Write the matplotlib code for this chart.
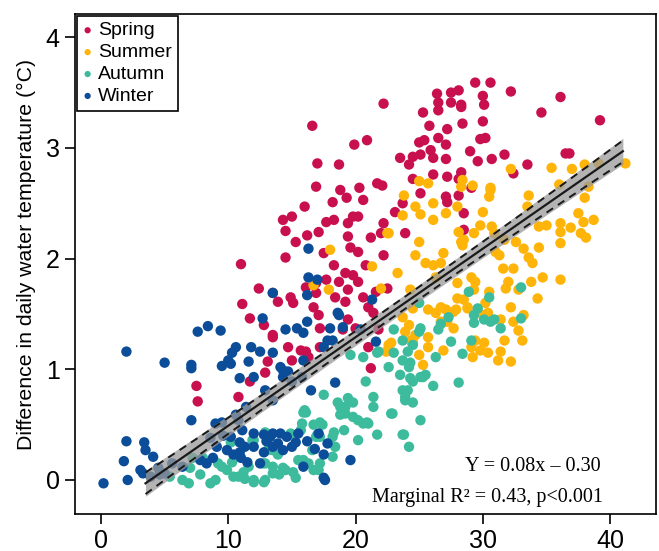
import matplotlib
matplotlib.use("Agg")
import matplotlib.pyplot as plt
import numpy as np

# ---------------- data ----------------
spring_x = [16.6, 22.2, 19.9, 20.9, 17.0, 18.7, 16.9, 18.8, 20.3, 21.7, 22.1, 16.0, 18.2, 19.3, 20.6,
            14.3, 15.0, 17.7, 18.3, 19.4, 19.8, 20.2, 22.2, 14.5, 16.2, 17.1, 19.4, 21.2, 22.0, 15.3,
            19.6, 20.2, 17.5, 14.5, 22.2, 26.4, 27.5, 28.1, 26.5, 27.5, 28.3, 25.3, 26.5, 28.4, 25.8,
            27.2, 25.0, 25.4, 26.5, 27.1, 25.9, 23.5, 24.5, 25.1, 24.2, 26.1, 27.1, 24.5, 26.1, 27.2,
            28.1, 25.1, 27.1, 23.7, 27.2, 29.4, 30.6, 32.2, 36.1, 34.6, 39.2, 30.0, 30.1, 28.3, 30.0,
            29.8, 30.2, 29.0, 29.6, 30.7, 31.7, 33.5, 32.4, 36.5, 36.8, 28.3, 29.1, 28.1, 28.5, 28.5,
            23.1, 23.9, 18.3, 19.2, 19.8, 20.8, 16.1, 16.9, 17.7, 18.7, 20.2, 13.5, 14.9, 13.9, 16.9,
            18.4, 19.4, 20.6, 21.6, 22.5, 15.1, 16.7, 19.2, 21.0, 17.1, 21.4, 19.4, 17.2, 19.0, 20.0,
            21.8, 13.5, 14.7, 15.7, 16.1, 17.2, 21.0, 13.1, 16.3, 21.2, 15.0, 11.0, 12.4, 11.1, 11.7,
            12.8, 13.5, 12.9, 11.7, 7.5, 7.6, 10.8]
spring_y = [3.20, 3.40, 3.03, 3.07, 2.86, 2.85, 2.65, 2.62, 2.64, 2.68, 2.66, 2.47, 2.51, 2.55, 2.53,
            2.35, 2.38, 2.33, 2.35, 2.32, 2.38, 2.38, 2.32, 2.25, 2.21, 2.24, 2.20, 2.19, 2.23, 2.15,
            2.10, 2.06, 2.05, 2.01, 2.03, 3.49, 3.50, 3.52, 3.41, 3.41, 3.37, 3.32, 3.34, 3.22, 3.20,
            3.17, 3.05, 3.07, 3.09, 3.03, 2.98, 2.91, 2.92, 2.94, 2.85, 2.91, 2.90, 2.72, 2.76, 2.74,
            2.72, 2.59, 2.56, 2.50, 2.51, 3.59, 3.59, 3.51, 3.46, 3.32, 3.25, 3.47, 3.39, 3.39, 3.24,
            3.08, 3.09, 2.97, 2.88, 2.90, 2.94, 2.85, 2.77, 2.95, 2.95, 2.78, 2.64, 2.57, 2.41, 2.26,
            2.42, 2.23, 1.94, 1.87, 1.85, 1.94, 1.74, 1.78, 1.81, 1.79, 1.79, 1.69, 1.65, 1.61, 1.69,
            1.65, 1.72, 1.65, 1.70, 1.73, 1.60, 1.56, 1.61, 1.56, 1.49, 1.51, 1.45, 1.37, 1.36, 1.37,
            1.36, 1.31, 1.20, 1.17, 1.16, 1.20, 1.20, 1.07, 1.11, 1.01, 1.08, 1.95, 1.73, 1.59, 1.46,
            1.40, 1.29, 0.97, 0.89, 0.85, 0.71, 0.75]

summer_x = [18.0, 22.5, 25.0, 25.7, 23.8, 24.7, 26.1, 23.7, 25.1, 26.1, 27.1, 28.0, 28.3, 22.6, 25.0,
            24.7, 26.9, 28.1, 28.3, 32.2, 35.4, 37.0, 38.0, 41.2, 39.1, 28.4, 29.2, 30.6, 30.5, 33.6,
            36.0, 38.3, 38.0, 30.0, 33.5, 37.5, 38.7, 37.9, 29.8, 30.7, 34.4, 35.0, 36.1, 36.9, 36.1,
            37.7, 38.1, 29.3, 28.4, 31.7, 32.6, 34.4, 36.1, 33.2, 31.0, 33.6, 31.3, 33.9, 32.4, 31.6,
            34.7, 36.1, 33.8, 32.0, 31.8, 32.8, 29.1, 29.4, 28.0, 30.5, 34.3, 28.5, 30.2, 32.2, 27.9,
            28.8, 33.2, 32.4, 30.4, 32.8, 33.1, 31.7, 29.4, 29.8, 29.1, 31.4, 31.2, 32.2, 29.2, 25.5,
            26.1, 23.3, 21.3, 16.7, 17.9, 22.0, 24.3, 24.5, 25.7, 26.3, 27.1, 23.7, 26.7, 24.2, 23.9,
            25.7, 22.6, 22.4, 24.5, 25.7, 26.9, 25.0, 25.3, 27.7, 30.6, 28.5, 30.9, 26.7, 27.7, 28.8,
            29.3, 26.3, 26.7, 28.0, 30.0, 31.4, 27.2, 30.1, 30.4, 24.3, 24.7, 22.8]
summer_y = [2.08, 2.23, 2.70, 2.68, 2.57, 2.47, 2.50, 2.39, 2.40, 2.35, 2.41, 2.47, 2.65, 2.23, 2.15,
            2.03, 2.05, 2.24, 2.15, 2.81, 2.82, 2.81, 2.85, 2.86, 2.86, 2.71, 2.66, 2.62, 2.56, 2.57,
            2.67, 2.65, 2.55, 2.42, 2.47, 2.41, 2.35, 2.33, 2.30, 2.29, 2.29, 2.30, 2.32, 2.28, 2.24,
            2.23, 2.19, 2.23, 2.12, 2.17, 2.15, 2.10, 2.14, 2.09, 2.06, 2.01, 2.03, 1.96, 1.91, 1.91,
            1.83, 1.81, 1.79, 1.79, 1.73, 1.72, 1.83, 1.79, 1.78, 1.70, 1.64, 1.63, 1.60, 1.56, 1.54,
            1.55, 1.49, 1.43, 1.51, 1.35, 1.26, 1.26, 1.26, 1.17, 1.20, 1.16, 1.08, 1.07, 1.11, 1.96,
            1.94, 1.87, 1.93, 1.76, 1.72, 1.73, 1.72, 1.55, 1.54, 1.51, 1.54, 1.47, 1.43, 1.40, 1.34,
            1.29, 1.22, 1.16, 1.25, 1.20, 1.17, 1.13, 1.04, 1.37, 2.64, 2.17, 2.23, 1.56, 1.52, 1.56,
            1.72, 1.83, 1.96, 1.64, 1.49, 1.45, 1.43, 1.24, 1.15, 1.26, 1.31, 1.24]

autumn_x = [33.0, 28.9, 30.5, 29.6, 29.3, 30.1, 30.6, 30.9, 29.3, 31.4, 33.0, 29.1, 28.4, 28.1, 23.0,
            25.0, 23.7, 24.5, 21.8, 23.0, 24.1, 20.6, 19.6, 23.7, 22.6, 24.2, 23.5, 25.5, 24.5, 20.8,
            26.1, 23.7, 23.9, 24.5, 17.5, 19.4, 18.6, 19.2, 22.8, 25.1, 16.1, 18.8, 19.8, 20.6, 21.0,
            15.8, 17.4, 19.1, 16.9, 18.2, 20.2, 23.7, 24.2, 12.9, 13.9, 15.5, 16.3, 17.1, 12.9, 13.5,
            14.5, 16.6, 18.2, 18.4, 27.3, 25.1, 26.5, 27.5, 26.3, 25.1, 5.4, 6.4, 6.9, 7.0, 7.8,
            7.2, 9.0, 9.5, 10.3, 10.8, 12.0, 12.9, 11.6, 12.7, 11.9, 13.5, 8.0, 8.6, 9.9, 10.4,
            11.2, 12.0, 12.8, 13.5, 14.3, 15.1, 15.9, 16.7, 17.2, 10.2, 12.0, 13.1, 13.9, 14.9, 15.7,
            15.9, 16.7, 17.2, 9.2, 10.9, 25.0, 26.7, 21.7, 24.3, 24.3, 25.3, 24.1, 23.9, 19.8, 21.4,
            18.8, 19.2, 20.2, 20.9, 22.9, 16.0, 17.2, 17.0, 18.3, 21.7, 23.8, 21.4, 14.0, 15.3, 11.3]
autumn_y = [1.74, 1.70, 1.65, 1.55, 1.49, 1.45, 1.43, 1.45, 1.42, 1.37, 1.46, 1.26, 1.14, 0.88, 1.36,
            1.34, 1.26, 1.22, 1.16, 1.15, 1.16, 1.11, 1.13, 1.08, 1.02, 1.02, 0.95, 0.95, 0.89, 0.89,
            0.85, 0.81, 0.75, 0.70, 0.77, 0.74, 0.70, 0.66, 0.60, 0.54, 0.61, 0.59, 0.57, 0.51, 0.51,
            0.51, 0.50, 0.45, 0.39, 0.39, 0.36, 0.41, 0.30, 0.43, 0.24, 0.18, 0.15, 0.09, 0.15, 0.12,
            0.09, 0.27, 0.21, 0.30, 1.47, 1.37, 1.36, 1.25, 1.11, 0.93, 0.03, 0.00, -0.03, 0.11, 0.05,
            0.20, 0.00, 0.12, 0.16, 0.03, -0.02, 0.00, 0.12, 0.15, 0.36, 0.27, 0.20, -0.03, 0.09, 0.03,
            0.07, 0.00, -0.02, 0.06, 0.11, 0.07, 0.18, 0.09, 0.15, 0.34, 0.36, 0.27, 0.23, 0.42, 0.45,
            0.61, 0.50, 0.39, 0.15, 0.21, 1.60, 1.41, 1.15, 1.06, 0.92, 0.93, 0.81, 0.72, 0.70, 0.75,
            0.66, 0.60, 0.54, 0.52, 0.60, 0.63, 0.52, 0.41, 0.43, 0.41, 0.41, 0.66, 0.05, 0.02, 0.01]

winter_x = [2.0, 5.0, 7.1, 7.1, 7.6, 8.4, 9.4, 10.6, 10.3, 10.0, 9.5, 10.2, 11.8, 11.6, 12.5,
            12.7, 13.5, 10.9, 12.0, 7.1, 9.0, 9.5, 10.6, 10.8, 11.4, 2.0, 3.4, 3.5, 4.1, 1.8,
            3.1, 3.3, 3.9, 2.1, 0.2, 4.5, 5.6, 6.4, 5.0, 11.1, 4.6, 10.2, 10.9, 12.0, 12.8,
            13.3, 14.1, 14.6, 9.1, 9.9, 10.4, 10.9, 12.0, 12.8, 13.5, 14.3, 7.8, 8.3, 8.8, 11.5,
            12.5, 15.9, 17.5, 16.5, 18.4, 13.5, 15.5, 15.3, 17.1, 17.8, 17.5, 19.6, 17.6, 14.5, 15.4,
            15.9, 13.5, 14.1, 14.3, 14.7, 14.3, 15.0, 12.9, 13.5, 18.2, 17.5, 21.6, 18.6, 16.2, 16.3,
            21.3, 16.3, 17.0, 16.2, 18.7, 18.0, 19.0, 17.8, 20.4, 15.9, 15.8, 13.0, 11.3, 15.0, 16.2,
            16.8, 11.0, 13.9, 9.6, 8.6]
winter_y = [1.16, 1.06, 1.04, 1.01, 1.34, 1.39, 1.35, 1.20, 1.15, 1.08, 1.03, 1.05, 1.20, 1.07, 1.16,
            1.46, 1.69, 0.92, 0.93, 0.54, 0.51, 0.52, 0.59, 0.54, 0.66, 0.35, 0.34, 0.27, 0.21, 0.17,
            0.09, 0.06, 0.03, 0.00, -0.03, 0.11, 0.15, 0.12, 0.06, 0.45, 0.05, 0.39, 0.34, 0.42, 0.41,
            0.39, 0.42, 0.39, 0.30, 0.27, 0.23, 0.25, 0.30, 0.25, 0.30, 0.27, 0.18, 0.15, 0.20, 0.16,
            0.15, 0.12, 0.02, 0.81, 0.88, 0.42, 0.42, 0.34, 0.42, 0.33, 0.23, 0.18, 0.00, 1.36, 1.37,
            1.33, 1.15, 1.02, 0.99, 0.98, 0.93, 0.89, 0.81, 0.72, 1.26, 1.20, 1.25, 1.51, 1.43, 1.83,
            1.63, 2.09, 1.81, 1.67, 1.49, 1.37, 1.38, 1.26, 1.36, 1.08, 0.93, 0.35, 0.30, 0.30, 0.35,
            0.28, 0.20, 0.33, 0.40, 0.38]

seasons = ["Spring", "Summer", "Autumn", "Winter"]
colors = ["#C8104F", "#FFB40A", "#3DBB9D", "#0B4D98"]

fit_slope = 0.08
fit_intercept = -0.31
fit_xrange = [3.5, 41.0]

eq_text = "Y = 0.08x \u2013 0.30"
r2_text = "Marginal R\u00b2 = 0.43, p<0.001"
ylabel = "Difference in daily water temperature (\u00b0C)"
xticks = [0, 10, 20, 30, 40]
yticks = [0, 1, 2, 3, 4]

# ---------------- plot ----------------
plt.rcParams['font.family'] = ['Liberation Sans', 'DejaVu Sans']
fig = plt.figure(figsize=(6.59, 5.51), dpi=100)
ax = fig.add_axes([0.1138, 0.0672, 0.8816, 0.9074])

data = [(spring_x, spring_y), (summer_x, summer_y), (autumn_x, autumn_y), (winter_x, winter_y)]
handles = []
for (xs, ys), lab, c in zip(data, seasons, colors):
    h = ax.scatter(xs, ys, s=56, color=c, edgecolors='none', label=lab, zorder=2)
    handles.append(h)

xf = np.linspace(fit_xrange[0], fit_xrange[1], 100)
yf = fit_slope * xf + fit_intercept
xm = np.mean(fit_xrange)
half = 0.055 + 0.00012 * (xf - xm) ** 2
ax.fill_between(xf, yf - half - 0.02, yf + half + 0.02, color='#9A9A9A', alpha=0.75,
                linewidth=0, zorder=3)
ax.plot(xf, yf, color='#1a1a1a', lw=1.6, zorder=4)
ax.plot(xf, yf + half, color='#1a1a1a', lw=1.4, ls=(0, (4, 3)), zorder=4)
ax.plot(xf, yf - half, color='#1a1a1a', lw=1.4, ls=(0, (4, 3)), zorder=4)

ax.set_xlim(-2.04, 43.6)
ax.set_ylim(-0.307, 4.21)
ax.set_xticks(xticks)
ax.set_yticks(yticks)
ax.tick_params(axis='both', labelsize=18, length=7, width=1.2, direction='out', pad=4)
for sp in ax.spines.values():
    sp.set_linewidth(1.2)
    sp.set_color('black')
ax.set_ylabel(ylabel, fontsize=15.3)
ax.yaxis.set_label_coords(-0.067, 0.52)

leg = ax.legend(handles=handles, loc='upper left', bbox_to_anchor=(0.0, 1.0), borderaxespad=0.1,
                fancybox=False, edgecolor='black', fontsize=14, handlelength=0.5,
                handletextpad=0.3, labelspacing=0.22, borderpad=0.3, markerscale=0.6,
                framealpha=1)
leg.get_frame().set_linewidth(1.2)

ax.text(0.905, 0.095, eq_text, transform=ax.transAxes, ha='right', va='center',
        fontsize=14.5, family=['Liberation Serif', 'DejaVu Serif'])
ax.text(0.908, 0.033, r2_text, transform=ax.transAxes, ha='right', va='center',
        fontsize=14.5, family=['Liberation Serif', 'DejaVu Serif'])

fig.savefig("out.png", dpi=100)
